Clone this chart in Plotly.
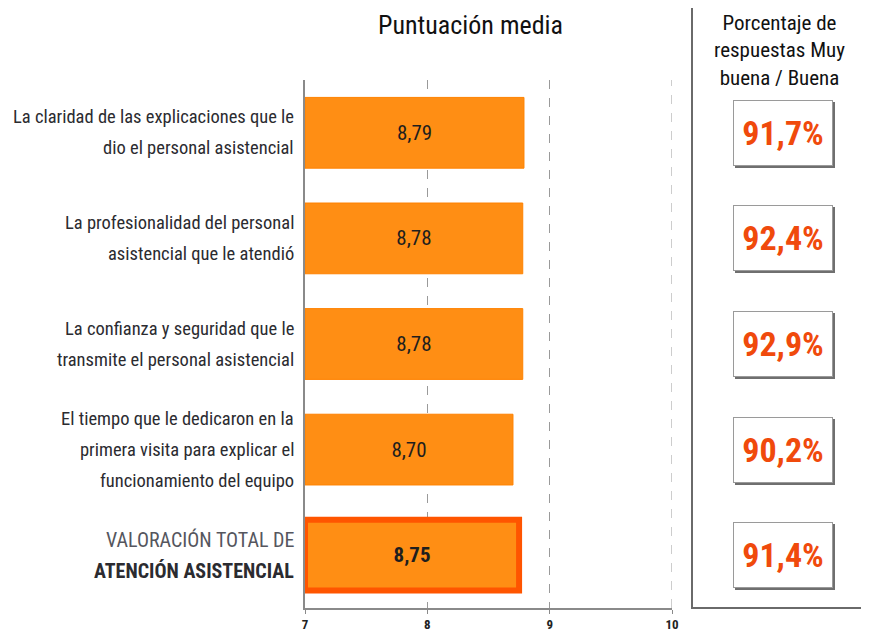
import plotly.graph_objects as go

# ---- data ----
category_lines = [
    ["La claridad de las explicaciones que le", "dio el personal asistencial"],
    ["La profesionalidad del personal", "asistencial que le atendió"],
    ["La confianza y seguridad que le", "transmite el personal asistencial"],
    ["El tiempo que le dedicaron en la", "primera visita para explicar el", "funcionamiento del equipo"],
    ["<span style='color:#55565e'>VALORACIÓN TOTAL DE</span>", "<b>ATENCIÓN ASISTENCIAL</b>"],
]
scores = [8.79, 8.78, 8.78, 8.70, 8.75]
score_labels = ["8,79", "8,78", "8,78", "8,70", "<b>8,75</b>"]
pct_labels = ["91,7%", "92,4%", "92,9%", "90,2%", "91,4%"]
x_ticks = [7, 8, 9, 10]
axis_min = 7
axis_max = 10

FONT = "Roboto Condensed, Liberation Sans Narrow, DejaVu Sans Condensed, sans-serif"

ypos = list(range(len(scores)))
line_colors = ["#FF8200"] * 4 + ["#FF5500"]
line_widths = [1, 1, 1, 1, 6]

fig = go.Figure()
fig.add_trace(go.Bar(
    x=[s - axis_min for s in scores], y=ypos, base=axis_min, orientation="h",
    width=0.67,
    marker=dict(color="#FF8E14", line=dict(color=line_colors, width=line_widths)),
    text=score_labels, textposition="inside", insidetextanchor="middle",
    textfont=dict(family=FONT, size=21, color="#1e1e1e"),
    hoverinfo="skip",
))

annotations = []
LINE_H = 31
for i, lines in enumerate(category_lines):
    n = len(lines)
    for k, ln in enumerate(lines):
        annotations.append(dict(
            x=axis_min, y=i, xref="x", yref="y", xanchor="right", yanchor="middle",
            xshift=-9, yshift=((n - 1) / 2 - k) * LINE_H, text=ln, align="right",
            showarrow=False,
            font=dict(family=FONT, size=20 if i == 4 else 18.5, color="#2b2b30"),
        ))

# percentage boxes
for i, p in enumerate(pct_labels):
    annotations.append(dict(
        x=1.3025, y=i, xref="paper", yref="y", xanchor="center", yanchor="middle",
        xshift=2, yshift=-2, text="", showarrow=False, width=98, height=64,
        bgcolor="#6f6f6f", borderwidth=0,
    ))
    annotations.append(dict(
        x=1.3025, y=i, xref="paper", yref="y", xanchor="center", yanchor="middle",
        text="<b>" + p + "</b>", showarrow=False, width=98, height=64,
        bgcolor="white", bordercolor="#9a9a9a", borderwidth=1, borderpad=0,
        font=dict(family=FONT, size=34, color="#F04A0C"),
    ))

annotations.append(dict(
    x=0.452, y=1.105, xref="paper", yref="paper", xanchor="center", yanchor="middle",
    text="Puntuación media", showarrow=False,
    font=dict(family=FONT, size=26, color="#111111"),
))
annotations.append(dict(
    x=1.294, y=1.056, xref="paper", yref="paper", xanchor="center", yanchor="middle",
    text="Porcentaje de<br>respuestas Muy<br>buena / Buena", showarrow=False,
    font=dict(family=FONT, size=21, color="#111111"),
))

shapes = [
    dict(type="rect", xref="paper", yref="paper", x0=1.0545, x1=1.75, y0=0, y1=1.35,
         line=dict(color="#6a6a6a", width=2), fillcolor="rgba(0,0,0,0)", layer="below"),
    dict(type="line", xref="x", yref="paper", x0=axis_max, x1=axis_max, y0=0, y1=1,
         line=dict(color="#9a9a9a", width=1, dash="dash"), layer="below"),
]

# page body has an 8px margin, so the figure is 8px smaller and placed at (8, 8)
fig.update_layout(
    width=861, height=628,
    margin=dict(l=297, r=197, t=72, b=28, autoexpand=False),
    paper_bgcolor="white", plot_bgcolor="white",
    showlegend=False,
    annotations=annotations,
    shapes=shapes,
    xaxis=dict(
        range=[axis_min, axis_max], tickvals=x_ticks, ticktext=[f"<b>{t}</b>" for t in x_ticks],
        showgrid=True, gridcolor="#9a9a9a", griddash="dash", gridwidth=1,
        zeroline=False, showline=True, linecolor="#8a8a8a", linewidth=1.5,
        ticks="outside", ticklen=4, tickcolor="#8a8a8a",
        tickfont=dict(family=FONT, size=13, color="#222"),
    ),
    yaxis=dict(
        range=[4.5, -0.5], showticklabels=False, showgrid=False, zeroline=False,
        showline=True, linecolor="#8a8a8a", linewidth=1.5,
    ),
)

fig.write_html("out.html")
